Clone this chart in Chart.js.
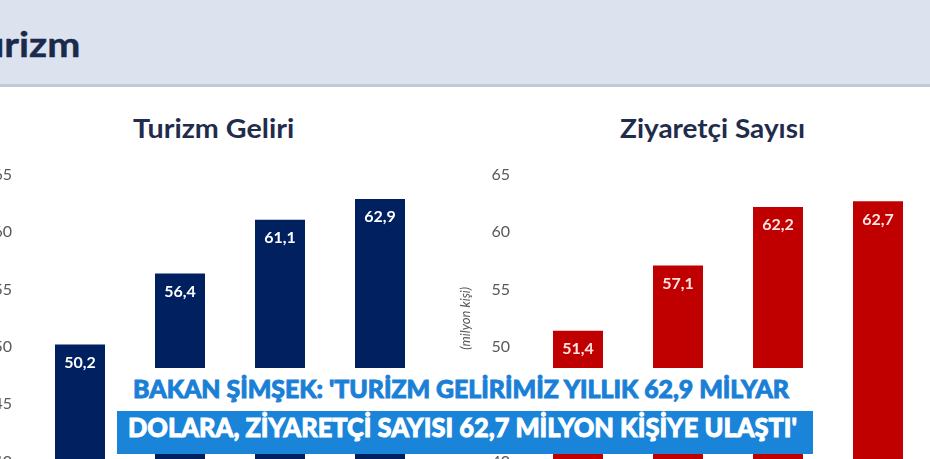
<!DOCTYPE html>
<html>
<head>
<meta charset="utf-8">
<script src="https://cdn.jsdelivr.net/npm/chart.js@4/dist/chart.umd.min.js"></script>
<style>
  html, body { margin:0; padding:0; width:930px; height:459px; overflow:hidden; background:#ffffff; }
  #stage { position:relative; width:930px; height:459px; overflow:hidden; font-family: Lato, "Open Sans", sans-serif; }
  #band { position:absolute; left:0; top:0; width:930px; height:84px; background:#dce3ef; border-bottom:3px solid #c2c8d8; }
  #head { position:absolute; top:0; font-family:Lato, sans-serif; font-weight:700; font-size:34px; color:#1b2a4a; white-space:nowrap; line-height:40.8px; transform-origin:0 0; -webkit-text-stroke:0.4px #1b2a4a; }
  .ctitle { position:absolute; font-family:Lato, sans-serif; font-weight:700; font-size:26px; color:#1f2c4c; white-space:nowrap; line-height:31.2px; transform-origin:0 0; }
  canvas { position:absolute; }
  #wbox { position:absolute; left:120px; top:368px; width:685px; height:43px; background:#ffffff; }
  #bbox { position:absolute; left:117px; top:411px; width:696px; height:43px; background:#1a84d9; }
  .bl { position:absolute; font-family:Lato, sans-serif; font-weight:900; white-space:nowrap; transform-origin:0 0; }
  #l1 { color:#1a7fd6; font-size:25px; line-height:30px; -webkit-text-stroke:0.9px #1a7fd6; }
  #l2 { color:#ffffff; font-size:27px; line-height:32.4px; -webkit-text-stroke:0.9px #ffffff; }
</style>
</head>
<body>
<div id="stage">
  <div id="band"></div>
  <div id="head">Turizm</div>
  <div class="ctitle" id="t1">Turizm Geliri</div>
  <div class="ctitle" id="t2">Ziyaretçi Sayısı</div>
  <canvas id="c1" width="490" height="420" style="left:-58px; top:100px; width:490px; height:420px;"></canvas>
  <canvas id="c2" width="490" height="420" style="left:440px; top:100px; width:490px; height:420px;"></canvas>
  <div id="wbox"></div>
  <div id="bbox"></div>
  <div class="bl" id="l1">BAKAN ŞİMŞEK: 'TURİZM GELİRİMİZ YILLIK 62,9 MİLYAR</div>
  <div class="bl" id="l2">DOLARA, ZİYARETÇİ SAYISI 62,7 MİLYON KİŞİYE ULAŞTI'</div>
</div>
<script>
// ---- data ----
const categories = ["2022", "2023", "2024", "2025"];
const revenueValues = [50.2, 56.4, 61.1, 62.9];
const visitorValues = [51.4, 57.1, 62.2, 62.7];
const yTickValues = [40, 45, 50, 55, 60, 65];
const revenueTitle = "Turizm Geliri";
const visitorTitle = "Ziyaretçi Sayısı";
const visitorAxisTitle = "(milyon kişi)";

document.getElementById('t1').textContent = revenueTitle;
document.getElementById('t2').textContent = visitorTitle;

const mctx = document.createElement('canvas').getContext('2d');

// ---- header text placement ----
(function(){
  const head = document.getElementById('head');
  mctx.font = '700 34px Lato';
  const tu = mctx.measureText('Tu').width;
  const rizm = mctx.measureText('rizm').width;
  const s = 76 / rizm;
  head.style.left = (4 - tu * s) + 'px';
  head.style.top = (58 - 0.987*34) + 'px';
  head.style.transform = 'scaleX(' + s + ')';
})();

// ---- fit a text element into [left, left+width] with given baseline ----
function fitText(id, weight, left, width, baseline, size) {
  const el = document.getElementById(id);
  mctx.font = weight + ' ' + size + 'px Lato';
  const w = mctx.measureText(el.textContent).width;
  el.style.left = left + 'px';
  el.style.top = (baseline - 0.987*size) + 'px';
  el.style.transform = 'scaleX(' + (width / w) + ')';
}
fitText('t1', 700, 133, 155, 138, 25);
fitText('t2', 700, 620, 178, 138, 25);
fitText('l1', 900, 133, 657, 398, 25);
fitText('l2', 900, 128, 669, 438, 27);

// ---- data label plugin ----
const valueLabels = {
  id: 'valueLabels',
  afterDatasetsDraw(chart, args, opts) {
    const ctx = chart.ctx;
    ctx.save();
    ctx.font = '700 16px Lato';
    ctx.fillStyle = opts.color || '#ffffff';
    ctx.textAlign = 'center';
    ctx.textBaseline = 'middle';
    chart.data.datasets.forEach((ds, di) => {
      const meta = chart.getDatasetMeta(di);
      meta.data.forEach((bar, i) => {
        const txt = String(ds.data[i]).replace('.', ',');
        ctx.fillText(txt, bar.x, bar.y + 18);
      });
    });
    ctx.restore();
  }
};

function makeChart(id, values, color, labelColor, axisTitle) {
  return new Chart(document.getElementById(id), {
    type: 'bar',
    data: {
      labels: categories,
      datasets: [{ data: values, backgroundColor: color, borderWidth: 0,
                   barPercentage: 0.5, categoryPercentage: 1.0 }]
    },
    options: {
      responsive: false,
      animation: false,
      layout: { padding: { top: 75, right: 2, left: 0, bottom: 0 } },
      plugins: {
        legend: { display: false },
        tooltip: { enabled: false },
        title: { display: false },
        valueLabels: { color: labelColor }
      },
      scales: {
        x: {
          grid: { display: false, drawTicks: false },
          border: { display: false },
          ticks: { color: '#595959', font: { family: 'Lato', size: 15 }, padding: 8 },
          afterFit(s) { s.height = 58.5; }
        },
        y: {
          min: 40, max: 65,
          afterBuildTicks(s) { s.ticks = yTickValues.map(v => ({ value: v })); },
          grid: { display: false, drawTicks: false },
          border: { display: false },
          ticks: { color: '#595959', font: { family: 'Lato', size: 16 }, padding: 18 },
          title: axisTitle ? { display: true, text: axisTitle, color: '#595959', align: 'center',
                   font: { family: 'Lato', size: 13, style: 'italic' }, padding: { top: 18, bottom: 0 } } : { display: false },
          afterFit(s) { s.width = 88; }
        }
      }
    },
    plugins: [valueLabels]
  });
}

makeChart('c1', revenueValues, '#002060', '#ffffff', null);
makeChart('c2', visitorValues, '#c00000', '#ffe4e4', visitorAxisTitle);
</script>
</body>
</html>
